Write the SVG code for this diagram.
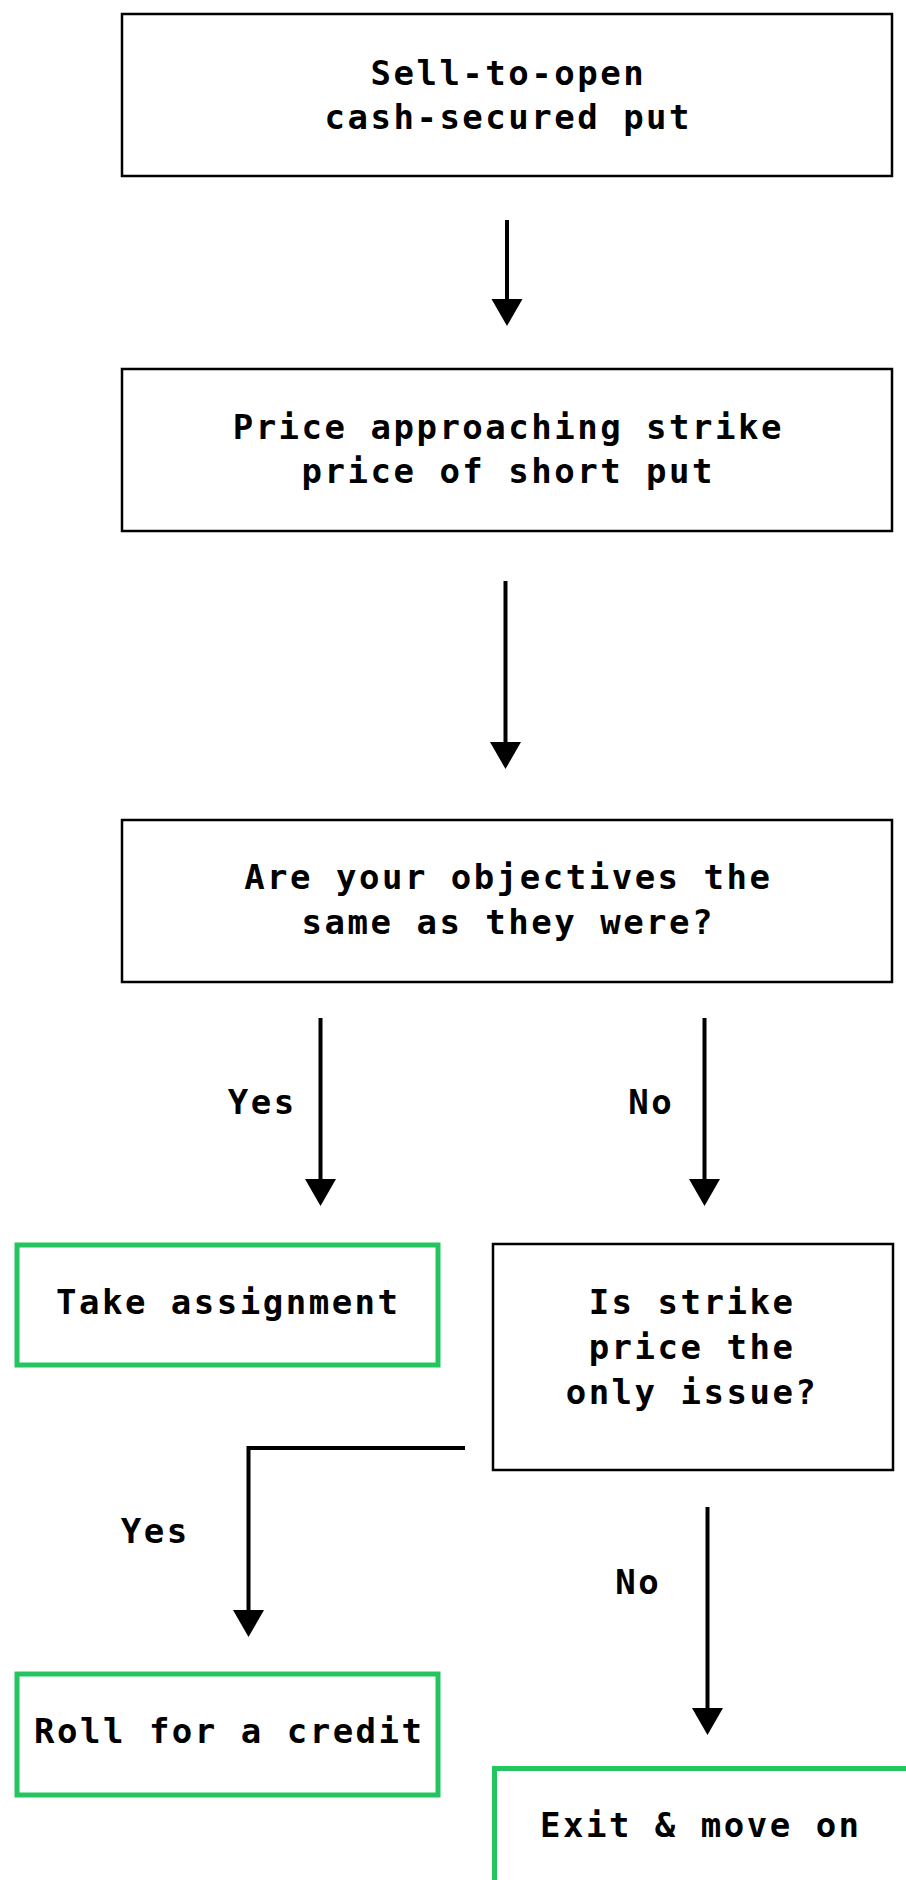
<svg xmlns="http://www.w3.org/2000/svg" width="906" height="1880" viewBox="0 0 906 1880">
<style>
  .box { fill: #ffffff; stroke: #000000; stroke-width: 2.5; }
  .end { fill: #ffffff; stroke: #22c55e; stroke-width: 5; }
  .t { font-family: "DejaVu Sans Mono", "Liberation Mono", monospace; font-weight: bold; font-size: 34px; letter-spacing: 2.5px; fill: #000000; text-anchor: middle; }
  .c { fill: none; stroke: #000000; stroke-width: 4; }
</style>
<defs>
  <marker id="ah" markerUnits="userSpaceOnUse" markerWidth="28" markerHeight="31" refX="0" refY="15.5" orient="auto" overflow="visible">
    <path d="M0,0 L27,15.5 L0,31 Z" fill="#000000"/>
  </marker>
</defs>
<rect width="906" height="1880" fill="#ffffff"/>

<g id="n1">
  <rect class="box" x="122" y="14" width="770" height="162"/>
  <text class="t" x="508.3" y="85">Sell-to-open</text>
  <text class="t" x="508.3" y="129">cash-secured put</text>
</g>
<g id="n2">
  <rect class="box" x="122" y="369" width="770" height="162"/>
  <text class="t" x="508.3" y="439">Price approaching strike</text>
  <text class="t" x="508.3" y="483">price of short put</text>
</g>
<g id="n3">
  <rect class="box" x="122" y="820" width="770" height="162"/>
  <text class="t" x="508.3" y="889">Are your objectives the</text>
  <text class="t" x="508.3" y="934">same as they were?</text>
</g>
<g id="n4">
  <rect class="end" x="17" y="1245" width="421" height="120"/>
  <text class="t" x="228.3" y="1314">Take assignment</text>
</g>
<g id="n5">
  <rect class="box" x="493" y="1244" width="400" height="226"/>
  <text class="t" x="692" y="1314">Is strike</text>
  <text class="t" x="692" y="1359">price the</text>
  <text class="t" x="692" y="1404">only issue?</text>
</g>
<g id="n6">
  <rect class="end" x="17" y="1674" width="421" height="121"/>
  <text class="t" x="229.3" y="1743">Roll for a credit</text>
</g>
<g id="n7">
  <rect class="end" x="494.5" y="1768.5" width="500" height="200"/>
  <text class="t" x="700.8" y="1837">Exit &amp; move on</text>
</g>

<g id="connectors">
  <line class="c" x1="507" y1="220" x2="507" y2="299" marker-end="url(#ah)"/>
  <line class="c" x1="505.5" y1="581" x2="505.5" y2="742" marker-end="url(#ah)"/>
  <line class="c" x1="320.5" y1="1018" x2="320.5" y2="1179" marker-end="url(#ah)"/>
  <line class="c" x1="704.5" y1="1018" x2="704.5" y2="1179" marker-end="url(#ah)"/>
  <path class="c" d="M465,1448 H248.5 V1610" marker-end="url(#ah)"/>
  <line class="c" x1="707.5" y1="1507" x2="707.5" y2="1708" marker-end="url(#ah)"/>
  <text class="t" x="262.3" y="1114">Yes</text>
  <text class="t" x="651.3" y="1114">No</text>
  <text class="t" x="155.3" y="1543">Yes</text>
  <text class="t" x="638.3" y="1594">No</text>
</g>
</svg>
